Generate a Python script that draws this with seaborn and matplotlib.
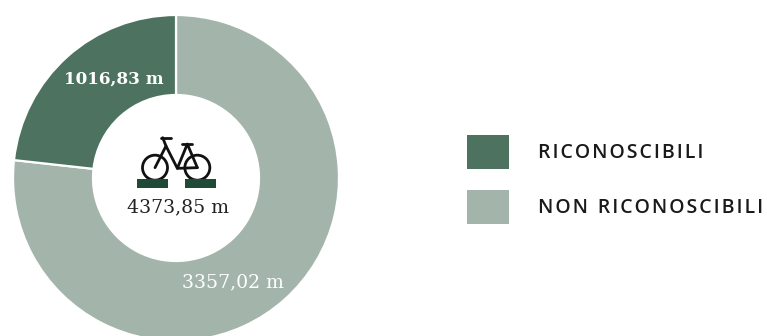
import matplotlib
matplotlib.use("Agg")
import matplotlib.pyplot as plt
from matplotlib.patches import Rectangle, Circle
import seaborn as sns

labels = ["NON RICONOSCIBILI", "RICONOSCIBILI"]
values = [3357.02, 1016.83]
colors = ["#a3b5aa", "#4d7360"]
total_label = "4373,85 m"
value_labels = ["3357,02 m", "1016,83 m"]

sns.set_theme(style="white")
W, H = 767, 336
fig = plt.figure(figsize=(W / 100, H / 100), dpi=100, facecolor="white")
ax = fig.add_axes([0, 0, 1, 1])


def Y(y):
    return H - y


R, r = 163, 83
ax.pie(values, colors=colors, startangle=90, counterclock=False, radius=R,
       center=(176, Y(178)), wedgeprops=dict(width=R - r, edgecolor="white", linewidth=1.6))
ax.set_xlim(0, W)
ax.set_ylim(0, H)
ax.set_aspect("equal")
ax.axis("off")

serif = "DejaVu Serif"
ax.text(114, Y(79), value_labels[1], color="white", family=serif, fontsize=12.2,
        ha="center", va="center", weight="bold")
ax.text(233, Y(282), value_labels[0], color="white", family=serif, fontsize=13.6,
        ha="center", va="center")
ax.text(178, Y(207), total_label, color="#222222", family=serif, fontsize=13.6,
        ha="center", va="center")

# legend
for lab, col, y0 in [(labels[1], colors[1], 135), (labels[0], colors[0], 190)]:
    ax.add_patch(Rectangle((467, Y(y0 + 34)), 42, 34, fc=col, ec="none"))
    spaced = "\u2002".join("\u200a".join(word) for word in lab.split(" "))
    ax.text(538, Y(y0 + 18), spaced,
            family=["Open Sans", "DejaVu Sans"], fontsize=14,
            color="#1a1a1a", ha="left", va="center", weight="semibold")

# bicycle icon (zoom-crop coordinates)
def Z(x, y):
    return 90 + x / 3, Y(120 + y / 3)

for cx in (195, 322):
    x, y = Z(cx, 143)
    ax.add_patch(Circle((x, y), 12.5, fc="none", ec="#111111", lw=2.0))
segments = [
    [(213, 53), (242, 53)],
    [(218, 53), (228, 78), (195, 143)],
    [(228, 78), (262, 145), (322, 143)],
    [(262, 145), (292, 72), (322, 143)],
    [(275, 73), (305, 73)],
]
for seg in segments:
    pts = [Z(*p) for p in seg]
    ax.plot([p[0] for p in pts], [p[1] for p in pts], color="#111111", lw=2.0,
            solid_capstyle="round", solid_joinstyle="round")
for x0 in (137, 185):
    ax.add_patch(Rectangle((x0, Y(188)), 31, 9, fc="#1f4a38", ec="none"))

fig.savefig("out.png", dpi=100, facecolor="white")
